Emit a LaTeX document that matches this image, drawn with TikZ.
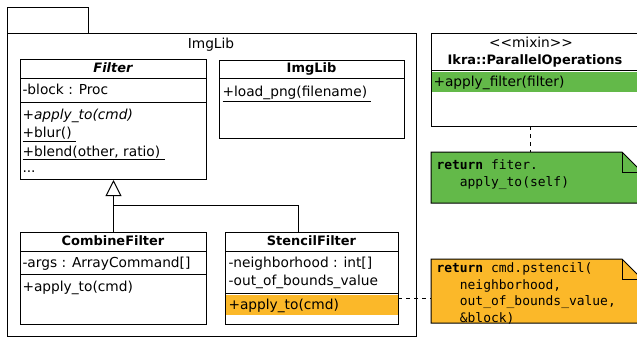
\documentclass[tikz,border=0pt]{standalone}
\usepackage{fontspec}
\setmainfont{DejaVu Sans}
\setmonofont{DejaVu Sans Mono}
\usetikzlibrary{arrows.meta}
\definecolor{notegreen}{RGB}{99,185,73}
\definecolor{noteorange}{RGB}{251,184,41}
\begin{document}
\begin{tikzpicture}[x=1bp,y=-1bp,line width=1bp,
  box/.style={draw,rectangle,inner sep=0pt,anchor=north west},
  txt/.style={anchor=mid west,inner sep=0pt,font=\fontsize{13.8}{16}\selectfont},
  ctxt/.style={anchor=mid,inner sep=0pt,font=\fontsize{13.8}{16}\selectfont},
  ttl/.style={anchor=mid,inner sep=0pt,font=\fontsize{13}{16}\selectfont\bfseries},
  code/.style={anchor=base west,inner sep=0pt,font=\fontsize{13}{16}\selectfont\ttfamily},
  dep/.style={dash pattern=on 4bp off 4bp},
  inh/.style={-{Triangle[open,length=16bp,width=16bp]}}]
\useasboundingbox (0,0) rectangle (637,337);
\clip (0,0) rectangle (637,337);
% package
\node[box,minimum width=81bp,minimum height=26bp] (tab) at (7,7) {};
\node[box,minimum width=409bp,minimum height=303bp] (pkg) at (7,33) {};
\node[ctxt] (pkglbl) at (211,45.5) {ImgLib};
% Filter
\node[box,minimum width=186bp,minimum height=120bp] (filter) at (20,59) {};
\draw (20,78) -- (206,78);
\draw (20,102) -- (206,102);
\node[ttl] (filterT) at (113,70) {\itshape Filter};
\node[txt] (fa1) at (22,91.5) {-block : Proc};
\node[txt] (fm1) at (22,116.5) {\itshape +apply\_to(cmd)};
\node[txt] (fm2) at (22,135) {\underline{+blur()\ }};
\node[txt] (fm3) at (22,153.5) {\underline{+blend(other, ratio)\ }};
\node[txt] (fm4) at (22,170) {...};
% ImgLib class
\node[box,minimum width=185bp,minimum height=78bp] (imglib) at (219,60) {};
\draw (219,78) -- (404,78);
\node[ttl] (imglibT) at (311.5,70) {ImgLib};
\node[txt] (im1) at (222,93.5) {\underline{+load\_png(filename)\ }};
% CombineFilter
\node[box,minimum width=186bp,minimum height=92bp] (combine) at (20,232) {};
\draw (20,251) -- (206,251);
\draw (20,274) -- (206,274);
\node[ttl] (combineT) at (113,243) {CombineFilter};
\node[txt] (ca1) at (22,264.5) {-args : ArrayCommand[]};
\node[txt] (cm1) at (22,288.5) {+apply\_to(cmd)};
% StencilFilter
\fill[noteorange] (225,294.5) rectangle (398,315);
\node[box,minimum width=173bp,minimum height=92bp] (stencil) at (225,232) {};
\draw (225,251) -- (398,251);
\draw (225,293) -- (398,293);
\node[ttl] (stencilT) at (311.5,243) {StencilFilter};
\node[txt] (sa1) at (228,264.5) {-neighborhood : int[]};
\node[txt] (sa2) at (228,282.5) {-out\_of\_bounds\_value};
\node[txt] (sm1) at (228,306.5) {+apply\_to(cmd)};
% inheritance
\coordinate (join) at (113,205);
\coordinate (sup) at (298,232);
\draw[inh] (combine.north) -- (filter.south);
\draw (sup) |- (join);
% mixin
\fill[notegreen] (431,72) rectangle (645,92);
\node[box,minimum width=214bp,minimum height=93bp] (mixin) at (431,33) {};
\draw (431,70) -- (645,70);
\node[ctxt] (mixinS) at (531,45) {<\kern0pt<mixin>\kern0pt>};
\node[ttl] (mixinT) at (535,62) {Ikra::ParallelOperations};
\node[txt] (mm1) at (433,83.5) {+apply\_filter(filter)};
% green note
\node[rectangle,inner sep=0pt,anchor=north west,minimum width=211bp,minimum height=51bp] (gnote) at (431,152) {};
\filldraw[fill=notegreen] (431,152) -- (622,152) -- (642,172) -- (642,203) -- (431,203) -- cycle;
\draw (622,152) -- (622,172) -- (642,172);
\node[code] (g1) at (436,169.5) {\textbf{return} fiter.};
\node[code] (g2) at (436,186.5) {\phantom{xxx}apply\_to(self)};
\coordinate (mixdep) at (530,126);
\draw[dep] (mixdep) -- (mixdep |- gnote.north);
% orange note
\node[rectangle,inner sep=0pt,anchor=north west,minimum width=211bp,minimum height=64bp] (onote) at (431,259) {};
\filldraw[fill=noteorange] (431,259) -- (622,259) -- (642,279) -- (642,323) -- (431,323) -- cycle;
\draw (622,259) -- (622,279) -- (642,279);
\node[code] (o1) at (436,272.5) {\textbf{return} cmd.pstencil(};
\node[code] (o2) at (436,289) {\phantom{xxx}neighborhood,};
\node[code] (o3) at (436,305.5) {\phantom{xxx}out\_of\_bounds\_value,};
\node[code] (o4) at (436,322) {\phantom{xxx}\&block)};
\coordinate (sdep) at (398,298);
\draw[dep] (sdep) -- (sdep -| onote.west);
\end{tikzpicture}
\end{document}
